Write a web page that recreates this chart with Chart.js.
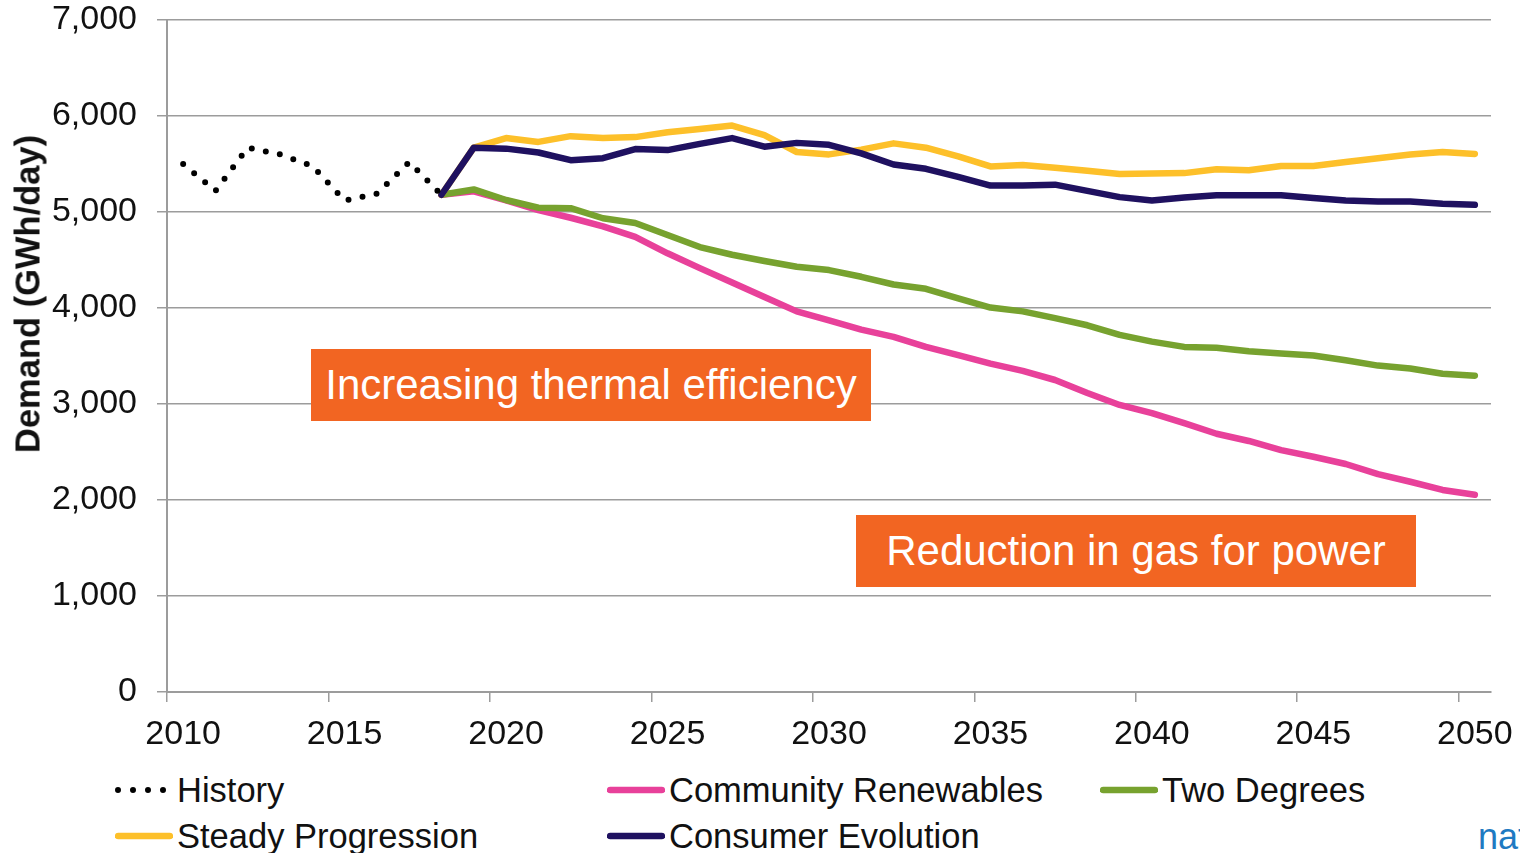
<!DOCTYPE html>
<html>
<head>
<meta charset="utf-8">
<script src="https://cdn.jsdelivr.net/npm/chart.js@4"></script>
<style>
    html, body { margin: 0; padding: 0; background: #fff; overflow: hidden; }
    body { width: 1520px; height: 853px; position: relative; font-family: "Liberation Sans", Arial, sans-serif; }
    #chart-wrap { position: absolute; left: 0; top: 0; width: 1520px; height: 760px; }
    .y-title {
        position: absolute; left: 28px; top: 294px;
        transform: translate(-50%, -50%) rotate(-90deg);
        font-weight: bold; font-size: 34.5px; color: #111; white-space: nowrap;
    }
    .note {
        position: absolute; background: #f26522; color: #fff;
        width: 560px; height: 72px; line-height: 72px; text-align: center;
        font-size: 42px; white-space: nowrap;
    }
    .legend-item { position: absolute; display: flex; align-items: center; font-size: 34.5px; color: #111; white-space: nowrap; }
    .legend-item svg { margin-right: 4px; }
    .logo { position: absolute; left: 1478px; top: 816px; font-size: 36px; color: #1f7ac2; white-space: nowrap; }
</style>
</head>
<body>
<div id="chart-wrap"><canvas id="chart-demand" width="1520" height="760"></canvas></div>
<div class="y-title">Demand (GWh/day)</div>
<div class="note" style="left:311px; top:349px;">Increasing thermal efficiency</div>
<div class="note" style="left:856px; top:515px;">Reduction in gas for power</div>
<div id="legend"></div>
<div class="logo">national grid</div>

<script>
/**
 * Gas demand scenarios — Chart.js line chart
 */

const YEARS = [];
for (let y = 2010; y <= 2050; y++) YEARS.push(y);

// 2010-2018
const HISTORY = [5500, 5220, 5670, 5600, 5480, 5120, 5190, 5520, 5180];

// 2018-2050
const COMMUNITY_RENEWABLES = [
    5180, 5215, 5120, 5020, 4940, 4850, 4740, 4570, 4415, 4265, 4115,
    3965, 3870, 3775, 3700, 3595, 3510, 3420, 3345, 3250, 3115, 2990,
    2905, 2800, 2690, 2615, 2520, 2450, 2375, 2270, 2190, 2105, 2055,
];
const TWO_DEGREES = [
    5180, 5235, 5125, 5045, 5040, 4935, 4885, 4760, 4635, 4555, 4490,
    4430, 4395, 4325, 4245, 4200, 4100, 4005, 3965, 3895, 3820, 3720,
    3650, 3595, 3585, 3550, 3525, 3505, 3455, 3400, 3370, 3315, 3295,
];
const STEADY_PROGRESSION = [
    5180, 5670, 5770, 5730, 5790, 5770, 5780, 5830, 5865, 5900, 5800,
    5625, 5600, 5650, 5715, 5670, 5580, 5475, 5490, 5460, 5430, 5395,
    5400, 5405, 5445, 5435, 5480, 5480, 5520, 5560, 5600, 5625, 5605,
];
const CONSUMER_EVOLUTION = [
    5180, 5670, 5660, 5620, 5540, 5560, 5655, 5645, 5710, 5770, 5680,
    5720, 5700, 5610, 5495, 5450, 5365, 5275, 5275, 5285, 5220, 5155,
    5120, 5150, 5175, 5175, 5175, 5145, 5120, 5110, 5110, 5085, 5075,
];

const Y_TICKS = [0, 1000, 2000, 3000, 4000, 5000, 6000, 7000];

const SERIES = [
    { label: 'History', data: HISTORY, start: 2010, color: '#000000', dotted: true, order: 0 },
    { label: 'Community Renewables', data: COMMUNITY_RENEWABLES, start: 2018, color: '#e8419a', order: 4 },
    { label: 'Two Degrees', data: TWO_DEGREES, start: 2018, color: '#77a22f', order: 3 },
    { label: 'Steady Progression', data: STEADY_PROGRESSION, start: 2018, color: '#fdc02a', order: 2 },
    { label: 'Consumer Evolution', data: CONSUMER_EVOLUTION, start: 2018, color: '#1f1160', order: 1 },
];

// legend slots: [left, centre y]
const LEGEND_POS = [[115, 790], [607, 790], [1100, 790], [115, 836], [607, 836]];

function padSeries(values, start) {
    return YEARS.map(y => {
        const i = y - start;
        return i >= 0 && i < values.length ? values[i] : null;
    });
}

const AXIS_GREY = '#9c9c9c';
const TEXT = '#111111';
const FONT = '"Liberation Sans", Arial, sans-serif';

function renderChart() {
    const ctx = document.getElementById('chart-demand');

    const datasets = SERIES.map(s => ({
        label: s.label,
        data: padSeries(s.data, s.start),
        borderColor: s.color,
        backgroundColor: s.color,
        borderWidth: s.dotted ? 6 : 6.5,
        borderDash: s.dotted ? [0, 14.3] : [],
        borderCapStyle: 'round',
        borderJoinStyle: 'round',
        pointRadius: 0,
        tension: 0,
        fill: false,
        spanGaps: false,
        order: s.order,
    }));

    new Chart(ctx, {
        type: 'line',
        data: { labels: YEARS.map(String), datasets },
        options: {
            responsive: false,
            animation: false,
            devicePixelRatio: 1,
            layout: { padding: { top: 20, right: 29, left: 0, bottom: 0 } },
            plugins: {
                legend: { display: false },
                tooltip: { enabled: false },
            },
            scales: {
                x: {
                    type: 'category',
                    offset: true,
                    grid: {
                        offset: true,
                        drawOnChartArea: false,
                        drawTicks: true,
                        tickLength: 10,
                        lineWidth: 1.5,
                        color: c => (c.index % 5 === 0 ? AXIS_GREY : 'rgba(0,0,0,0)'),
                    },
                    border: { display: true, color: AXIS_GREY, width: 2 },
                    ticks: {
                        autoSkip: false,
                        maxRotation: 0,
                        padding: 12,
                        color: TEXT,
                        font: { family: FONT, size: 34 },
                        callback: (v, i) => (YEARS[i] % 5 === 0 ? String(YEARS[i]) : ''),
                    },
                    afterFit: scale => {
                        scale.height = 68;
                        scale.paddingLeft = 0;
                        scale.paddingRight = 0;
                    },
                },
                y: {
                    min: 0,
                    max: 7000,
                    afterBuildTicks: scale => { scale.ticks = Y_TICKS.map(v => ({ value: v })); },
                    grid: {
                        color: AXIS_GREY,
                        lineWidth: 1.5,
                        drawTicks: true,
                        tickLength: 10,
                    },
                    border: { display: true, color: AXIS_GREY, width: 2 },
                    ticks: {
                        padding: 20,
                        color: TEXT,
                        font: { family: FONT, size: 34 },
                        callback: v => v.toLocaleString('en-US'),
                    },
                    afterFit: scale => {
                        scale.width = 167;
                        scale.paddingTop = 0;
                        scale.paddingBottom = 0;
                    },
                },
            },
        },
    });
}

function renderLegend() {
    const box = document.getElementById('legend');
    SERIES.forEach((s, i) => {
        const [left, cy] = LEGEND_POS[i];
        const line = s.dotted
            ? `<line x1="3" y1="6" x2="52" y2="6" stroke="${s.color}" stroke-width="6" stroke-linecap="round" stroke-dasharray="0 15"/>`
            : `<line x1="3" y1="6" x2="55" y2="6" stroke="${s.color}" stroke-width="6.5" stroke-linecap="round"/>`;
        const item = document.createElement('div');
        item.className = 'legend-item';
        item.style.left = left + 'px';
        item.style.top = (cy - 20) + 'px';
        item.style.height = '40px';
        item.innerHTML = `<svg width="58" height="12">${line}</svg><span>${s.label}</span>`;
        box.appendChild(item);
    });
}

renderChart();
renderLegend();
</script>
</body>
</html>
